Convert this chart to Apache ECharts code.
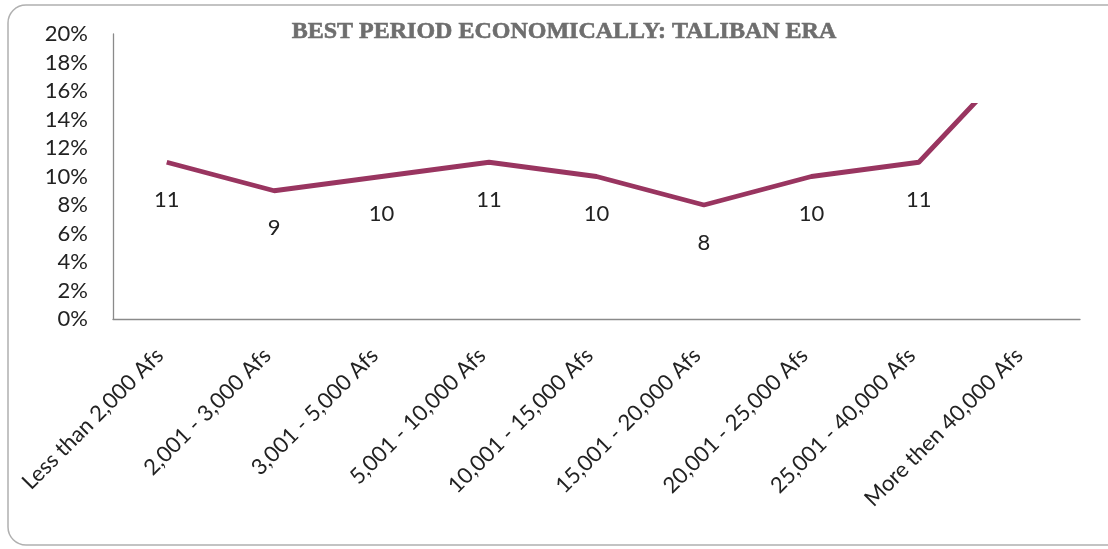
<!DOCTYPE html>
<html><head><meta charset="utf-8">
<script src="https://cdn.jsdelivr.net/npm/echarts@6/dist/echarts.min.js"></script>
<style>html,body{margin:0;padding:0;background:#fff}#c{width:1108px;height:549px}</style>
</head><body><div id="c"></div>
<script>
const categories = ['Less than 2,000 Afs','2,001 - 3,000 Afs','3,001 - 5,000 Afs','5,001 - 10,000 Afs','10,001 - 15,000 Afs','15,001 - 20,000 Afs','20,001 - 25,000 Afs','25,001 - 40,000 Afs','More then 40,000 Afs'];
const values = [11, 9, 10, 11, 10, 8, 10, 11, 19];
const labelShown = [true, true, true, true, true, true, true, true, false];
const visibleCutoff = 15.1;
const yTicks = {min: 0, max: 20, interval: 2};

const vMax = Math.max(...values), vMin = Math.min(...values);
const cutFrac = (vMax - visibleCutoff) / (vMax - vMin);
const lineColor = '#993560';

const chart = echarts.init(document.getElementById('c'));
chart.setOption({
  animation: false,
  graphic: [{type:'rect', shape:{x:8, y:5, width:1140, height:540, r:18}, style:{fill:'none', stroke:'#b0b0b0', lineWidth:1.5}}],
  title: {text:'BEST PERIOD ECONOMICALLY: TALIBAN ERA', left:559, top:15, textAlign:'center',
    textStyle:{fontFamily:'Liberation Serif', fontWeight:'bold', fontSize:24, color:'#6e6e6e',
      textBorderColor:'#6e6e6e', textBorderWidth:0.6}},
  grid: {left:113, top:34, right:28, bottom:230, containLabel:false},
  xAxis: {type:'category', data:categories, boundaryGap:true,
    axisLine:{lineStyle:{color:'#8a8a8a', width:1.3}}, axisTick:{show:false},
    axisLabel:{rotate:45, interval:0, fontFamily:'Lato', fontSize:22, color:'#222', margin:26, padding:[0,10,0,0]}},
  yAxis: {type:'value', min:yTicks.min, max:yTicks.max, interval:yTicks.interval,
    splitLine:{show:false}, axisTick:{show:false},
    axisLine:{show:true, lineStyle:{color:'#8a8a8a', width:1.3}},
    axisLabel:{formatter:'{value}%', fontFamily:'Lato', fontSize:22, color:'#222', margin:25}},
  series: [{type:'line', data: values.map((v,i)=>({value:v, label:{show:labelShown[i]}})),
    symbol:'circle', symbolSize:1, showSymbol:true, itemStyle:{color:'rgba(0,0,0,0)'},
    lineStyle:{width:4.8, color:{type:'linear', x:0, y:0, x2:0, y2:1, colorStops:[
      {offset:0, color:'rgba(255,255,255,0)'},
      {offset:cutFrac, color:'rgba(255,255,255,0)'},
      {offset:cutFrac, color:lineColor},
      {offset:1, color:lineColor}]}},
    labelLayout:{hideOverlap:false},
    label:{show:true, position:'bottom', distance:26, fontFamily:'Lato', fontSize:22, color:'#222'}}]
});
</script></body></html>
